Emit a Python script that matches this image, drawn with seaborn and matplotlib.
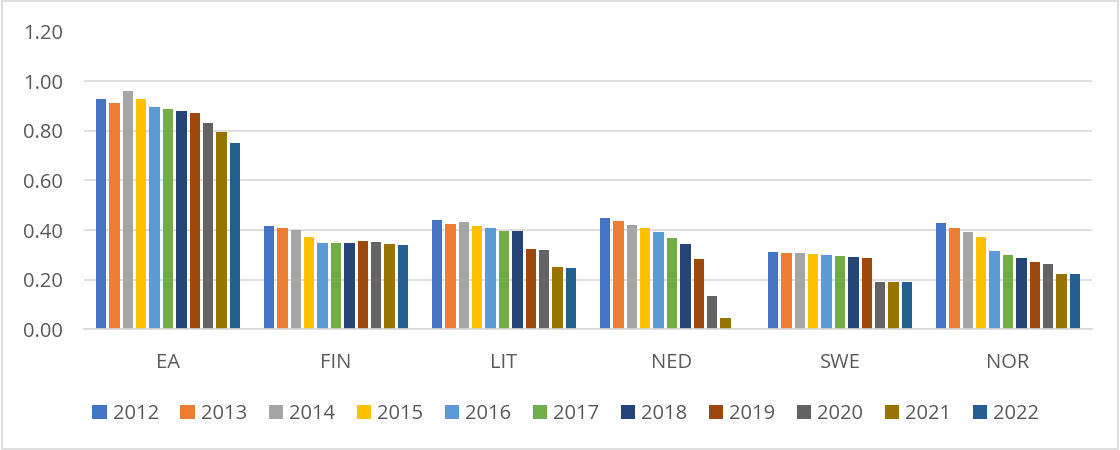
import matplotlib
matplotlib.use("Agg")
import matplotlib.pyplot as plt
import seaborn as sns
import numpy as np
import pandas as pd
from matplotlib.patches import Rectangle

countries = ["EA", "FIN", "LIT", "NED", "SWE", "NOR"]
years = ["2012", "2013", "2014", "2015", "2016", "2017",
         "2018", "2019", "2020", "2021", "2022"]

ea = [0.93, 0.91, 0.96, 0.93, 0.895, 0.887, 0.878, 0.871, 0.832, 0.797, 0.752]
fin = [0.415, 0.408, 0.40, 0.373, 0.347, 0.347, 0.350, 0.356, 0.352, 0.345, 0.341]
lit = [0.44, 0.423, 0.434, 0.415, 0.408, 0.395, 0.396, 0.324, 0.318, 0.25, 0.247]
ned = [0.45, 0.437, 0.422, 0.41, 0.393, 0.37, 0.342, 0.284, 0.136, 0.046, np.nan]
swe = [0.312, 0.309, 0.306, 0.303, 0.299, 0.295, 0.291, 0.288, 0.19, 0.19, 0.189]
nor = [0.428, 0.41, 0.392, 0.373, 0.317, 0.299, 0.287, 0.27, 0.264, 0.223, 0.223]

colors = ["#4472C4", "#ED7D31", "#A5A5A5", "#FFC000", "#5B9BD5", "#70AD47",
          "#264478", "#9E480E", "#636363", "#997300", "#255E91"]

rows = []
for c, vals in zip(countries, [ea, fin, lit, ned, swe, nor]):
    for y, v in zip(years, vals):
        rows.append({"country": c, "year": y, "value": v})
df = pd.DataFrame(rows)

sns.set_style("white")
plt.rcParams["font.family"] = ["Open Sans", "DejaVu Sans"]

fig = plt.figure(figsize=(11.2, 4.5), dpi=100)
ax = fig.add_axes([0.075, 0.268, 0.9, 0.662])

sns.barplot(data=df, x="country", y="value", hue="year", order=countries,
            hue_order=years, palette=colors, width=0.877, gap=0.23,
            saturation=1, linewidth=0, errorbar=None, ax=ax)

ax.set_ylim(0, 1.2)
ax.set_xlim(-0.5, 5.5)
ax.set_yticks(np.arange(0, 1.21, 0.2))
ax.set_yticklabels([f"{t:.2f}" for t in np.arange(0, 1.21, 0.2)])
ax.yaxis.grid(True, color="#D9D9D9", linewidth=1.2)
ax.set_axisbelow(True)
for s in ["top", "right", "left"]:
    ax.spines[s].set_visible(False)
ax.spines["bottom"].set_color("#D9D9D9")
ax.spines["bottom"].set_linewidth(1.2)
ax.tick_params(axis="y", length=0, pad=15, labelsize=14.5, labelcolor="#595959")
ax.tick_params(axis="x", length=0, pad=17, labelsize=14.5, labelcolor="#595959")
ax.set_xlabel("")
ax.set_ylabel("")

handles, labels = ax.get_legend_handles_labels()
ax.get_legend().remove()
fig.legend(handles, labels, loc="center", bbox_to_anchor=(0.505, 0.08),
           ncol=11, frameon=False, fontsize=14.5, handlelength=0.7,
           handleheight=0.7, handletextpad=0.3, columnspacing=1.08,
           labelcolor="#595959")

fig.patches.append(Rectangle((0.002, 0.002), 0.996, 0.996, transform=fig.transFigure,
                             fill=False, edgecolor="#D9D9D9", linewidth=1.2))

fig.savefig("out.png", dpi=100)
